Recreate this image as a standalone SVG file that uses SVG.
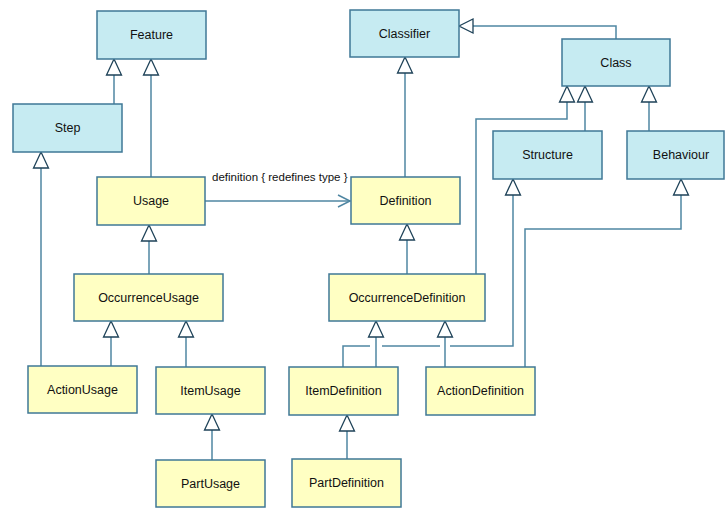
<svg xmlns="http://www.w3.org/2000/svg" width="725" height="508" viewBox="0 0 725 508">
<style>
.blue rect{fill:#c6ebf2;stroke:#3f7896;stroke-width:1.5}
.yellow rect{fill:#ffffc3;stroke:#3f7896;stroke-width:1.5}
text{font-family:"Liberation Sans",Arial,sans-serif;font-size:12.5px;fill:#111;text-anchor:middle;dominant-baseline:central}
.c line,.c polyline{fill:none;stroke:#4f86a2;stroke-width:1.5}
.tri{fill:#fff;stroke:#1e4258;stroke-width:1.3}
.open{fill:none;stroke:#2a5f7e;stroke-width:1.3}
.lbl{font-size:11.5px;text-anchor:start}
</style>
<rect width="725" height="508" fill="#fff"/>
<g class="c" id="connectors">
<line x1="114" y1="104" x2="114" y2="75"/>
<line x1="151" y1="177" x2="151" y2="75"/>
<line x1="41" y1="366" x2="41" y2="168"/>
<line x1="149" y1="274" x2="149" y2="241"/>
<line x1="111" y1="366" x2="111" y2="337"/>
<line x1="186" y1="367" x2="186" y2="337"/>
<line x1="212" y1="460" x2="212" y2="430"/>
<line x1="205" y1="201" x2="350" y2="201"/>
<line x1="405" y1="177" x2="405" y2="73"/>
<polyline points="616,39 616,26 473,26"/>
<line x1="585" y1="131" x2="585" y2="102"/>
<line x1="649" y1="131" x2="649" y2="102"/>
<polyline points="567,102 567,119 476,119 476,274"/>
<line x1="407" y1="274" x2="407" y2="240"/>
<polyline points="681,195 681,229 525,229 525,367"/>
<polyline points="513,195 513,346 450,346"/>
<line x1="440" y1="346" x2="382" y2="346"/>
<polyline points="370,346 343,346 343,367"/>
<line x1="376" y1="367" x2="376" y2="337"/>
<line x1="445" y1="367" x2="445" y2="337"/>
<line x1="347" y1="459" x2="347" y2="431"/>
<polygon class="tri" points="114,59 106.5,75 121.5,75"/>
<polygon class="tri" points="151,59 143.5,75 158.5,75"/>
<polygon class="tri" points="41,152 33.5,168 48.5,168"/>
<polygon class="tri" points="149,225 141.5,241 156.5,241"/>
<polygon class="tri" points="111,321 103.5,337 118.5,337"/>
<polygon class="tri" points="186,321 178.5,337 193.5,337"/>
<polygon class="tri" points="212,414 204.5,430 219.5,430"/>
<polyline class="open" points="338,195 350,201 338,207"/>
<polygon class="tri" points="405,57 397.5,73 412.5,73"/>
<polygon class="tri" points="459,26 473,19 473,33"/>
<polygon class="tri" points="567,86 559.5,102 574.5,102"/>
<polygon class="tri" points="585,86 577.5,102 592.5,102"/>
<polygon class="tri" points="649,86 641.5,102 656.5,102"/>
<polygon class="tri" points="407,224 399.5,240 414.5,240"/>
<polygon class="tri" points="513,179 505.5,195 520.5,195"/>
<polygon class="tri" points="681,179 673.5,195 688.5,195"/>
<polygon class="tri" points="376,321 368.5,337 383.5,337"/>
<polygon class="tri" points="445,321 437.5,337 452.5,337"/>
<polygon class="tri" points="347,415 339.5,431 354.5,431"/>
<text class="lbl" x="212" y="177">definition { redefines type }</text>
</g>
<g id="Feature" class="blue"><rect x="97" y="11" width="109" height="48"/><text x="151.5" y="35">Feature</text></g>
<g id="Step" class="blue"><rect x="13" y="104" width="109" height="48"/><text x="67.5" y="128">Step</text></g>
<g id="Classifier" class="blue"><rect x="350" y="10" width="109" height="47"/><text x="404.5" y="34">Classifier</text></g>
<g id="Class" class="blue"><rect x="562" y="39" width="108" height="47"/><text x="616" y="63">Class</text></g>
<g id="Structure" class="blue"><rect x="493" y="131" width="109" height="48"/><text x="547.5" y="155">Structure</text></g>
<g id="Behaviour" class="blue"><rect x="627" y="131" width="97" height="48"/><text x="681" y="155">Behaviour</text></g>
<g id="Usage" class="yellow"><rect x="97" y="177" width="108" height="48"/><text x="151" y="201">Usage</text></g>
<g id="Definition" class="yellow"><rect x="351" y="177" width="109" height="47"/><text x="405.5" y="201">Definition</text></g>
<g id="OccurrenceUsage" class="yellow"><rect x="74" y="274" width="149" height="47"/><text x="148.5" y="298">OccurrenceUsage</text></g>
<g id="OccurrenceDefinition" class="yellow"><rect x="329" y="274" width="156" height="47"/><text x="407" y="298">OccurrenceDefinition</text></g>
<g id="ActionUsage" class="yellow"><rect x="28" y="366" width="109" height="47"/><text x="82.5" y="390">ActionUsage</text></g>
<g id="ItemUsage" class="yellow"><rect x="156" y="367" width="109" height="47"/><text x="210.5" y="391">ItemUsage</text></g>
<g id="PartUsage" class="yellow"><rect x="156" y="460" width="109" height="47"/><text x="210.5" y="484">PartUsage</text></g>
<g id="ItemDefinition" class="yellow"><rect x="289" y="367" width="109" height="48"/><text x="343.5" y="391">ItemDefinition</text></g>
<g id="ActionDefinition" class="yellow"><rect x="426" y="367" width="109" height="48"/><text x="480.5" y="391">ActionDefinition</text></g>
<g id="PartDefinition" class="yellow"><rect x="292" y="459" width="109" height="48"/><text x="346.5" y="483">PartDefinition</text></g>
</svg>
